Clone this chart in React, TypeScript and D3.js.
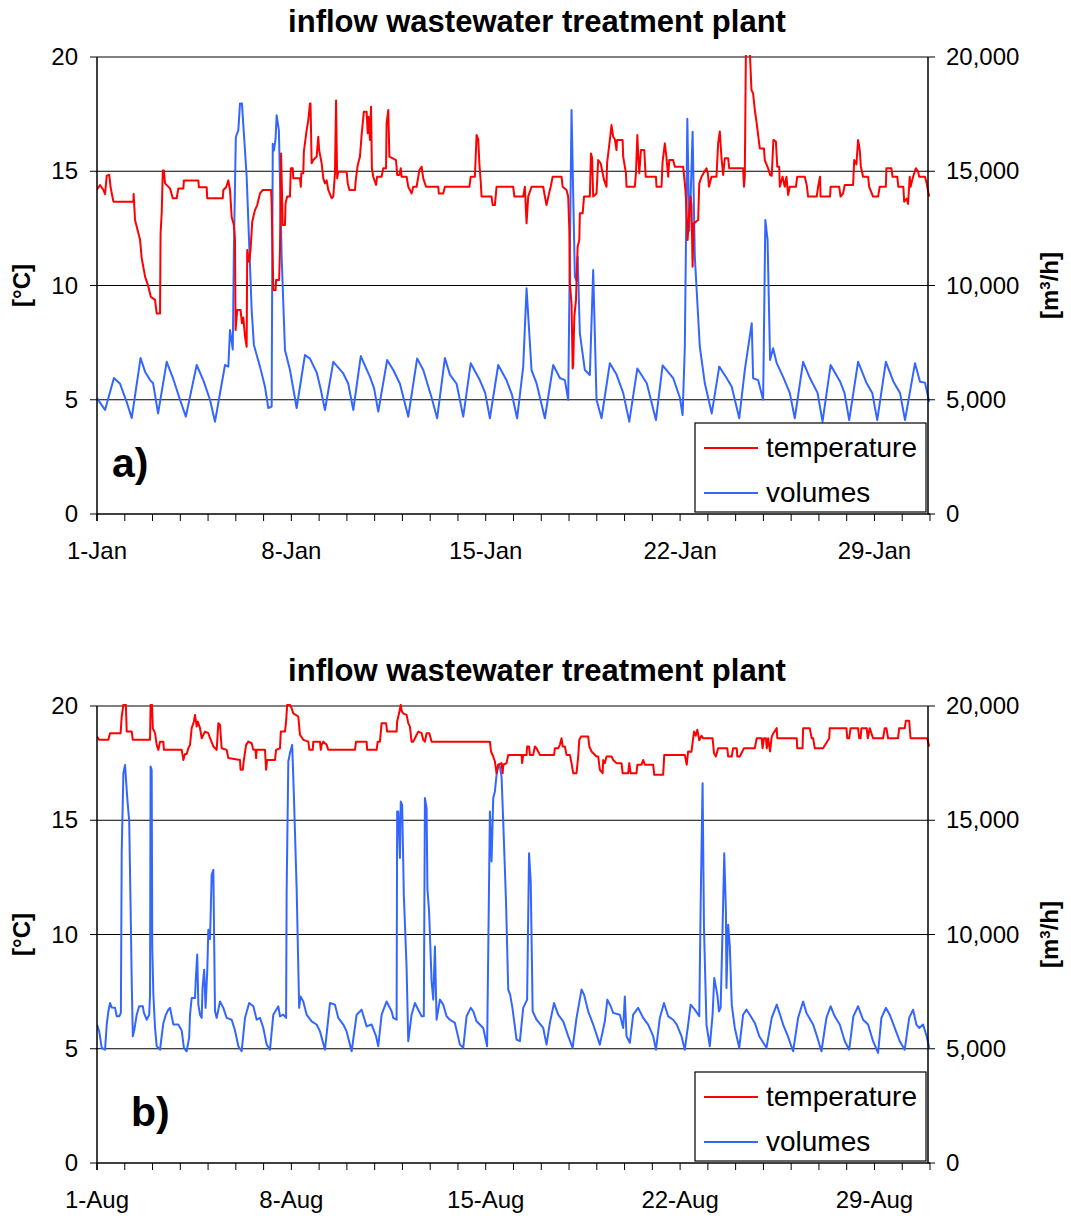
import React from "react";
import * as d3 from "d3";

type Pt = [number, number]; // [days since start of month, value]

// ---- January: temperature [°C] ----
const janTemperature: Pt[] = [
  [0, 14.2], [0.11, 14.4], [0.23, 14.18], [0.29, 14.0], [0.35, 14.8], [0.44, 14.85], [0.49, 14.3], [0.59, 13.67],
  [1.31, 13.67], [1.32, 14.0], [1.37, 12.87], [1.55, 12.0], [1.61, 11.2], [1.73, 10.4], [1.85, 9.95], [1.94, 9.5],
  [2.09, 9.37], [2.15, 8.78], [2.27, 8.78], [2.29, 12.3], [2.33, 13.16], [2.37, 15.03], [2.41, 15.03], [2.45, 14.47],
  [2.63, 14.25], [2.73, 13.82], [2.87, 13.82], [2.93, 14.25], [3.11, 14.25], [3.13, 14.6], [3.65, 14.6], [3.67, 14.3],
  [3.95, 14.3], [3.97, 13.82], [4.53, 13.82], [4.55, 14.18], [4.65, 14.3], [4.73, 14.6], [4.79, 14.18], [4.85, 13.0],
  [4.93, 12.65], [4.97, 12.0], [4.99, 8.05], [5.05, 8.93], [5.17, 8.93], [5.22, 8.35], [5.27, 8.6], [5.33, 7.76],
  [5.39, 7.32], [5.41, 11.55], [5.48, 11.04], [5.53, 11.55], [5.59, 12.79], [5.69, 13.3], [5.77, 13.52], [5.87, 14.03],
  [5.97, 14.18], [6.27, 14.18], [6.29, 13.6], [6.35, 9.8], [6.43, 9.8], [6.45, 10.24], [6.56, 10.24], [6.59, 11.55],
  [6.63, 15.78], [6.69, 12.65], [6.77, 12.65], [6.79, 13.6], [6.85, 13.89], [6.95, 13.89], [6.98, 15.13], [7.05, 15.13],
  [7.07, 14.69], [7.31, 14.69], [7.34, 14.32], [7.36, 14.91], [7.43, 14.91], [7.45, 15.86], [7.55, 16.8], [7.61, 17.24],
  [7.67, 17.97], [7.69, 17.97], [7.73, 15.35], [7.79, 15.49], [7.91, 15.64], [7.97, 16.51], [8.0, 15.93], [8.09, 15.35],
  [8.15, 14.69], [8.21, 14.47], [8.27, 14.6], [8.33, 14.18], [8.45, 13.82], [8.51, 13.9], [8.57, 14.91], [8.61, 18.1],
  [8.63, 16.22], [8.65, 14.69], [8.69, 14.98], [8.99, 14.98], [9.03, 14.47], [9.09, 14.18], [9.29, 14.18], [9.32, 14.62],
  [9.39, 15.27], [9.47, 15.64], [9.53, 16.59], [9.61, 17.6], [9.71, 17.6], [9.75, 16.66], [9.78, 17.39], [9.83, 16.37],
  [9.87, 17.82], [9.9, 15.13], [9.95, 14.76], [10.05, 14.4], [10.09, 14.76], [10.25, 14.76], [10.31, 15.13], [10.41, 15.13],
  [10.43, 17.1], [10.49, 17.68], [10.53, 15.64], [10.77, 15.49], [10.81, 14.84], [10.89, 14.84], [10.94, 15.13], [10.97, 14.76],
  [11.15, 14.76], [11.21, 14.32], [11.33, 14.03], [11.39, 14.32], [11.51, 14.32], [11.61, 15.05], [11.69, 15.2], [11.75, 14.69],
  [11.85, 14.32], [12.29, 14.32], [12.31, 14.03], [12.47, 14.03], [12.53, 14.32], [13.41, 14.32], [13.46, 14.76], [13.61, 14.76],
  [13.67, 16.59], [13.73, 16.4], [13.77, 15.35], [13.82, 14.54], [13.85, 13.89], [14.21, 13.89], [14.25, 13.52], [14.33, 13.52],
  [14.39, 14.32], [14.99, 14.32], [15.03, 13.89], [15.35, 13.89], [15.41, 14.32], [15.47, 12.72], [15.53, 13.89], [15.65, 14.32],
  [16.07, 14.32], [16.13, 13.89], [16.19, 13.52], [16.28, 14.03], [16.34, 14.32], [16.41, 14.76], [16.73, 14.76], [16.77, 14.32],
  [16.91, 14.18], [16.97, 13.89], [17.01, 12.43], [17.03, 10.1], [17.09, 9.22], [17.13, 6.37], [17.15, 6.5], [17.19, 8.63],
  [17.25, 9.37], [17.31, 11.7], [17.37, 11.99], [17.39, 13.16], [17.49, 13.16], [17.54, 13.89], [17.75, 13.89], [17.79, 15.78],
  [17.83, 15.6], [17.87, 13.89], [17.99, 14.03], [18.05, 15.49], [18.14, 15.35], [18.26, 14.62], [18.35, 14.32], [18.37, 15.35],
  [18.47, 16.37], [18.53, 17.02], [18.59, 16.51], [18.65, 16.4], [18.71, 15.93], [18.73, 16.37], [18.93, 16.37], [18.95, 15.64],
  [19.05, 14.91], [19.07, 14.32], [19.37, 14.32], [19.41, 14.91], [19.46, 16.59], [19.49, 15.78], [19.53, 14.91], [19.59, 15.93],
  [19.71, 15.93], [19.76, 14.76], [20.13, 14.76], [20.15, 14.32], [20.33, 14.32], [20.37, 15.42], [20.45, 16.22], [20.51, 15.6],
  [20.57, 14.76], [20.61, 15.49], [20.75, 15.49], [20.81, 15.2], [21.11, 15.2], [21.17, 14.47], [21.21, 13.89], [21.27, 11.99],
  [21.33, 13.16], [21.38, 13.89], [21.41, 13.5], [21.45, 10.82], [21.49, 12.72], [21.65, 12.87], [21.69, 14.47], [21.77, 14.76],
  [21.95, 15.13], [22.0, 14.9], [22.04, 14.32], [22.13, 14.76], [22.31, 14.76], [22.37, 16.22], [22.43, 16.74], [22.49, 15.6],
  [22.55, 14.84], [22.61, 15.57], [22.73, 15.57], [22.77, 15.13], [23.27, 15.13], [23.3, 14.32], [23.33, 14.76], [23.37, 20.3],
  [23.51, 20.3], [23.57, 18.56], [23.63, 18.4], [23.69, 17.68], [23.75, 17.17], [23.81, 16.59], [23.87, 16.0], [24.02, 16.0],
  [24.05, 15.49], [24.17, 15.13], [24.24, 14.84], [24.3, 14.8], [24.36, 16.37], [24.45, 16.3], [24.5, 15.2], [24.57, 15.2],
  [24.59, 14.32], [24.69, 14.76], [24.77, 14.32], [24.83, 14.76], [24.89, 13.96], [24.95, 14.32], [25.17, 14.32], [25.22, 14.76],
  [25.49, 14.76], [25.56, 14.4], [25.61, 13.89], [25.92, 13.89], [25.97, 14.32], [26.04, 14.76], [26.06, 13.89], [26.4, 13.89],
  [26.42, 14.32], [26.73, 14.32], [26.78, 13.89], [26.87, 14.03], [26.93, 14.4], [27.23, 14.4], [27.27, 15.49], [27.35, 15.3],
  [27.41, 16.37], [27.47, 15.93], [27.51, 15.2], [27.59, 14.76], [27.77, 14.76], [27.81, 14.32], [27.95, 13.89], [28.13, 13.89],
  [28.19, 14.32], [28.41, 14.32], [28.43, 15.13], [28.61, 15.13], [28.65, 14.76], [28.82, 14.76], [28.86, 14.32], [29.04, 14.32],
  [29.07, 13.67], [29.16, 13.8], [29.21, 13.57], [29.27, 14.76], [29.3, 14.32], [29.39, 14.76], [29.49, 15.13], [29.57, 15.0],
  [29.61, 14.76], [29.82, 14.76], [29.88, 14.47], [29.97, 13.89],
];

// ---- January: inflow volumes [m³/h] ----
const janVolumes: Pt[] = [
  [0, 5070], [0.29, 4550], [0.61, 5950], [0.83, 5700], [1.07, 4900], [1.25, 4200], [1.57, 6830], [1.73, 6230],
  [1.91, 5860], [2.02, 5720], [2.2, 4400], [2.51, 6660], [2.75, 5900], [2.99, 5000], [3.2, 4260], [3.59, 6520], [3.83, 5850],
  [4.07, 5000], [4.25, 4040], [4.61, 6520], [4.73, 6450], [4.79, 8050], [4.89, 7200], [4.93, 11550], [5.0, 16500],
  [5.09, 16800], [5.15, 17970], [5.22, 17970], [5.39, 14760], [5.57, 8930], [5.65, 7400], [5.87, 6450], [6.05, 5570],
  [6.17, 4640], [6.29, 4700], [6.33, 16200], [6.37, 15900], [6.43, 16400], [6.47, 17450], [6.55, 16800], [6.65, 11260],
  [6.77, 7180], [6.95, 6300], [7.19, 4640], [7.49, 6960], [7.67, 6800], [7.91, 6200], [8.05, 5500], [8.21, 4550], [8.51, 6660],
  [8.87, 6150], [9.05, 5700], [9.23, 4550], [9.5, 6910], [9.83, 6000], [9.98, 5500], [10.13, 4480], [10.45, 6740], [10.67, 6300],
  [10.91, 5700], [11.21, 4260], [11.53, 6810], [11.75, 6300], [12.05, 5100], [12.25, 4190], [12.53, 6830], [12.71, 6100],
  [12.95, 5700], [13.19, 4260], [13.46, 6600], [13.79, 5850], [13.98, 5300], [14.15, 4190], [14.45, 6520], [14.75, 5850],
  [14.95, 5200], [15.13, 4190],
  [15.35, 6450], [15.47, 9880], [15.65, 6300], [15.83, 5720], [16.13, 4190], [16.43, 6520], [16.67, 5950], [16.85, 5860],
  [16.97, 5000], [17.09, 17680], [17.21, 10390], [17.27, 10200], [17.31, 11260], [17.39, 7900], [17.57, 6300], [17.75, 6080],
  [17.87, 10680], [17.99, 5000], [18.17, 4190], [18.47, 6600], [18.71, 6100], [18.95, 5300], [19.17, 4040], [19.46, 6370],
  [19.8, 5720], [20.13, 4110], [20.37, 6500], [20.75, 5950], [20.99, 5100], [21.09, 4330], [21.17, 7300], [21.26, 17300],
  [21.33, 12400], [21.38, 13900], [21.45, 16730], [21.53, 11260], [21.65, 8630], [21.71, 7320], [21.89, 5720], [22.14, 4400],
  [22.41, 6450], [22.68, 5940], [22.86, 5570], [23.13, 4190], [23.33, 6300], [23.58, 8350], [23.63, 5940], [23.81, 5860],
  [23.99, 5000], [24.07, 12870], [24.15, 12000], [24.24, 6740], [24.35, 7250], [24.48, 6600], [24.71, 6000], [24.95, 5300],
  [25.13, 4190], [25.43, 6660], [25.68, 5940], [25.95, 5300], [26.13, 4040], [26.42, 6520], [26.76, 5800], [26.92, 5300],
  [27.09, 4110], [27.41, 6660], [27.72, 5720], [27.92, 5300], [28.1, 4110], [28.41, 6660], [28.68, 5800], [28.92, 5300],
  [29.1, 4110], [29.46, 6600], [29.64, 5790], [29.82, 5750], [29.97, 4910],
];

// ---- August: temperature [°C] ----
const augTemperature: Pt[] = [
  [0, 18.66], [0.08, 18.52], [0.41, 18.52], [0.47, 18.81], [0.85, 18.81], [0.89, 19.54], [0.95, 20.05], [1.04, 20.05],
  [1.07, 18.88], [1.25, 18.88], [1.29, 18.52], [1.91, 18.52], [1.93, 20.05], [1.98, 20.05], [2.01, 19.03], [2.09, 18.81],
  [2.15, 18.3], [2.21, 18.08], [2.27, 18.44], [2.39, 18.44], [2.41, 18.08], [3.05, 18.08], [3.11, 17.64], [3.17, 17.9],
  [3.23, 17.9], [3.29, 18.15], [3.35, 18.3], [3.41, 19.03], [3.49, 19.32], [3.53, 19.61], [3.59, 19.1], [3.63, 19.32],
  [3.71, 19.03], [3.77, 18.59], [3.89, 18.88], [4.01, 18.81], [4.07, 18.59], [4.19, 18.23], [4.31, 18.08], [4.37, 19.25],
  [4.43, 19.18], [4.49, 18.15], [4.67, 18.08], [4.73, 17.72], [5.15, 17.64], [5.17, 17.21], [5.25, 17.21], [5.29, 17.64],
  [5.37, 18.3], [5.45, 18.44], [5.57, 18.37], [5.63, 18.08], [5.71, 18.08], [5.73, 17.72], [5.75, 18.08], [6.05, 18.08],
  [6.09, 17.21], [6.13, 17.64], [6.41, 17.64], [6.45, 18.08], [6.59, 18.15], [6.62, 18.88], [6.77, 18.88], [6.81, 19.32],
  [6.85, 20.05], [6.95, 20.05], [7.01, 19.9], [7.07, 19.68], [7.25, 19.54], [7.31, 18.74], [7.43, 18.52], [7.61, 18.44],
  [7.65, 18.08], [7.77, 18.08], [7.79, 18.44], [8.03, 18.44], [8.06, 18.08], [8.09, 18.3], [8.15, 18.44], [8.27, 18.3],
  [8.33, 18.08], [9.29, 18.08], [9.33, 18.44], [9.71, 18.44], [9.73, 18.08], [10.07, 18.08], [10.11, 18.44], [10.19, 18.44],
  [10.25, 19.25], [10.41, 19.25], [10.45, 18.88], [10.79, 18.88], [10.81, 19.32], [10.89, 19.75], [10.94, 20.05], [10.98, 19.75],
  [11.03, 19.68], [11.15, 19.61], [11.21, 19.25], [11.27, 19.1], [11.33, 18.44], [11.39, 18.44], [11.45, 18.59], [11.57, 18.88],
  [11.69, 18.81], [11.75, 18.52], [11.81, 18.44], [11.87, 18.81], [11.97, 18.81], [12.05, 18.44], [14.15, 18.44], [14.19, 18.01],
  [14.27, 17.79], [14.33, 17.57], [14.39, 17.06], [14.45, 17.43], [14.57, 17.5], [14.61, 17.06], [14.63, 17.43], [14.75, 17.5],
  [14.81, 17.86], [15.29, 17.86], [15.31, 17.5], [15.35, 17.86], [15.47, 17.86], [15.49, 18.23], [15.56, 18.23], [15.59, 17.86],
  [15.71, 17.86], [15.77, 18.23], [15.83, 18.15], [15.95, 17.86], [16.46, 17.86], [16.49, 18.15], [16.61, 18.15], [16.67, 18.3],
  [16.73, 18.59], [16.77, 18.23], [16.85, 18.23], [16.91, 17.86], [17.03, 17.86], [17.09, 17.5], [17.15, 17.06], [17.27, 17.06],
  [17.33, 17.79], [17.37, 18.52], [17.43, 18.66], [17.69, 18.66], [17.73, 18.23], [17.81, 18.01], [17.99, 17.79], [18.05, 17.79],
  [18.11, 17.21], [18.21, 17.06], [18.23, 17.64], [18.29, 17.5], [18.35, 17.79], [18.53, 17.79], [18.59, 17.64], [18.71, 17.5],
  [18.89, 17.5], [18.93, 17.06], [19.13, 17.06], [19.17, 17.5], [19.22, 17.06], [19.43, 17.06], [19.46, 17.43], [19.61, 17.43],
  [19.67, 17.64], [19.73, 17.43], [20.03, 17.43], [20.07, 16.99], [20.39, 16.99], [20.43, 17.86], [21.17, 17.86], [21.24, 17.43],
  [21.29, 18.01], [21.41, 18.0], [21.5, 18.88], [21.56, 18.7], [21.62, 18.96], [21.69, 18.5], [21.77, 18.7], [21.83, 18.59],
  [22.17, 18.59], [22.22, 17.94], [22.29, 17.79], [22.37, 18.15], [22.7, 18.15], [22.73, 17.79], [22.86, 17.79], [22.91, 18.15],
  [23.04, 18.15], [23.06, 17.79], [23.15, 17.79], [23.3, 18.15], [23.69, 18.15], [23.76, 18.59], [23.94, 18.59], [23.97, 18.15],
  [24.02, 18.59], [24.09, 18.59], [24.12, 18.15], [24.17, 18.59], [24.24, 18.01], [24.3, 18.66], [24.36, 18.81], [24.48, 19.03],
  [24.5, 18.59], [25.2, 18.59], [25.22, 18.15], [25.41, 18.15], [25.43, 19.03], [25.67, 19.03], [25.74, 18.59], [25.79, 18.59],
  [25.85, 18.15], [26.15, 18.15], [26.37, 18.59], [26.39, 19.03], [26.99, 19.03], [27.02, 18.59], [27.09, 18.59], [27.14, 19.03],
  [27.41, 19.03], [27.45, 18.59], [27.5, 18.59], [27.53, 19.03], [27.72, 19.03], [27.76, 18.59], [27.83, 19.03], [27.95, 18.59],
  [28.31, 18.59], [28.37, 19.03], [28.43, 19.03], [28.49, 18.59], [28.85, 18.59], [28.89, 19.03], [29.09, 19.03], [29.13, 19.35],
  [29.25, 19.35], [29.3, 18.59], [29.9, 18.59], [29.97, 18.23],
];

// ---- August: inflow volumes [m³/h] ----
const augVolumes: Pt[] = [
  [0, 6060], [0.08, 5760], [0.17, 5040], [0.29, 4960], [0.35, 6060], [0.41, 6640], [0.47, 7000], [0.53, 6800],
  [0.65, 6790], [0.71, 6420], [0.8, 6420], [0.86, 6570], [0.89, 13630], [0.95, 17060], [1.01, 17420], [1.09, 15970],
  [1.16, 14950], [1.21, 11160], [1.25, 7950], [1.29, 5550], [1.34, 5800], [1.43, 6490], [1.52, 6860], [1.65, 6860],
  [1.69, 6570], [1.79, 6270], [1.88, 6490], [1.91, 7370], [1.93, 17350], [1.97, 17200], [1.99, 9410], [2.03, 7370],
  [2.09, 5910], [2.15, 5110], [2.27, 4960], [2.39, 6130], [2.48, 6490], [2.57, 6710], [2.63, 6790], [2.75, 6060],
  [2.93, 6060], [3.05, 5800], [3.13, 5040], [3.23, 4890], [3.32, 5500], [3.35, 6490], [3.41, 7220], [3.53, 7220],
  [3.56, 8100], [3.61, 9120], [3.65, 6930], [3.71, 6490], [3.77, 6350], [3.8, 7660], [3.86, 8460], [3.91, 6790],
  [3.97, 8390], [4.01, 10210], [4.07, 9800], [4.13, 12610], [4.19, 12830], [4.25, 6640], [4.31, 6350], [4.43, 7070],
  [4.55, 6790], [4.67, 6350], [4.85, 6270], [4.97, 5800], [5.09, 5110], [5.21, 4890], [5.33, 6350], [5.48, 7000],
  [5.63, 6860], [5.75, 6270], [5.87, 6350], [5.99, 5910], [6.11, 5180], [6.23, 4960], [6.35, 6490], [6.53, 6860],
  [6.59, 6420], [6.71, 6490], [6.81, 6350], [6.83, 11880], [6.89, 17570], [6.95, 17940], [7.03, 18300], [7.09, 16110],
  [7.19, 12030], [7.28, 6790], [7.33, 7290], [7.43, 7070], [7.55, 6490], [7.73, 6200], [7.91, 6060], [8.03, 5760],
  [8.21, 4960], [8.39, 7000], [8.57, 6930], [8.69, 6350], [8.87, 6060], [8.99, 5760], [9.17, 4890], [9.35, 6490],
  [9.53, 6710], [9.71, 5980], [9.89, 6060], [10.05, 5550], [10.13, 5110], [10.25, 6490], [10.43, 7070], [10.61, 6640],
  [10.67, 6350], [10.79, 6270], [10.81, 15380], [10.85, 15380], [10.91, 13350], [10.94, 15820], [10.99, 15670], [11.05, 11740],
  [11.15, 8540], [11.21, 5330], [11.33, 6490], [11.45, 7000], [11.57, 6710], [11.69, 6420], [11.77, 6420], [11.81, 15970],
  [11.87, 15530], [11.9, 12000], [11.96, 11010], [12.05, 7950], [12.11, 7150], [12.17, 9480], [12.23, 6270], [12.35, 7150],
  [12.47, 6930], [12.59, 6420], [12.71, 6270], [12.89, 6130], [13.07, 5180], [13.19, 5040], [13.31, 6420], [13.46, 6790],
  [13.55, 6640], [13.67, 6200], [13.91, 5910], [14.05, 5110], [14.15, 15380], [14.21, 13200], [14.27, 15970], [14.33, 16260],
  [14.39, 16990], [14.45, 17420], [14.51, 17350], [14.57, 16900], [14.63, 14950], [14.73, 11450], [14.81, 7590], [14.88, 7370],
  [14.97, 6710], [15.11, 5400], [15.23, 5330], [15.35, 6790], [15.49, 7150], [15.56, 13560], [15.62, 12320], [15.69, 6640],
  [15.83, 6270], [16.07, 5910], [16.19, 5180], [16.31, 6130], [16.46, 7000], [16.61, 6490], [16.79, 6200], [16.97, 5550],
  [17.13, 5040], [17.27, 6350], [17.45, 7590], [17.54, 7370], [17.69, 6640], [17.87, 6060], [18.11, 5180], [18.29, 6200],
  [18.38, 7150], [18.5, 6860], [18.59, 6570], [18.83, 6490], [18.95, 5910], [19.01, 7290], [19.07, 5550], [19.19, 5260],
  [19.31, 6490], [19.49, 6790], [19.67, 6350], [19.85, 6060], [20.03, 5550], [20.13, 4960], [20.27, 6350], [20.42, 7000],
  [20.57, 6420], [20.75, 6270], [20.88, 6060], [21.05, 5550], [21.17, 4960], [21.29, 6060], [21.38, 6930], [21.53, 6710],
  [21.69, 6420], [21.74, 11300], [21.81, 16620], [21.86, 10280], [21.95, 6060], [22.07, 5110], [22.17, 6490], [22.23, 8100],
  [22.34, 7370], [22.4, 6640], [22.46, 6790], [22.53, 10280], [22.59, 13560], [22.65, 11000], [22.67, 7660], [22.73, 10430],
  [22.79, 9500], [22.86, 6930], [22.97, 5910], [23.13, 5040], [23.27, 6490], [23.39, 6710], [23.51, 6490], [23.69, 6130],
  [23.85, 5550], [24.11, 5040], [24.3, 6350], [24.48, 6930], [24.6, 6490], [24.71, 6060], [24.88, 5550], [25.07, 4890],
  [25.25, 6350], [25.43, 7070], [25.55, 6570], [25.79, 6060], [25.91, 5620], [26.09, 4890], [26.27, 6350], [26.42, 6860],
  [26.57, 6420], [26.75, 6060], [26.93, 5330], [27.09, 4960], [27.24, 6420], [27.41, 6860], [27.59, 6270], [27.77, 6060],
  [27.95, 5330], [28.13, 4820], [28.25, 6350], [28.41, 6790], [28.55, 6490], [28.73, 5910], [28.91, 5330], [29.09, 4960],
  [29.25, 6350], [29.39, 6710], [29.51, 6060], [29.61, 5910], [29.75, 6060], [29.88, 5550], [29.97, 5040],
];

// ---- axis ticks and labels ----
const temperatureTicks = [0, 5, 10, 15, 20];
const volumeTicks = [0, 5000, 10000, 15000, 20000];
const labelledDays = [0, 7, 14, 21, 28];
const monthDays = d3.range(0, 31);
const chartTitle = "inflow wastewater treatment plant";
const seriesNames = ["temperature", "volumes"];
const seriesColors = ["#FF0000", "#3366FF"];

const panels = [
  { letter: "a)", month: 0, temperature: janTemperature, volumes: janVolumes, dy: 0, letterX: 112 },
  { letter: "b)", month: 7, temperature: augTemperature, volumes: augVolumes, dy: 649, letterX: 131 },
];

const FONT = "'Liberation Sans', Arial, Helvetica, sans-serif";
const LEFT = 97;
const RIGHT = 928;
const DAY30 = 930;
const fmtDate = d3.utcFormat("%-d-%b");
const fmtVol = d3.format(",");

function Panel({ p }: { p: (typeof panels)[number] }) {
  const top = 57 + p.dy;
  const bottom = 514 + p.dy;
  const x = d3.scaleLinear().domain([0, 30]).range([LEFT, DAY30]);
  const yT = d3.scaleLinear().domain([0, 20]).range([bottom, top]);
  const yV = d3.scaleLinear().domain([0, 20000]).range([bottom, top]);
  const tLine = d3.line<Pt>().x((d) => x(d[0])).y((d) => yT(d[1]));
  const vLine = d3.line<Pt>().x((d) => x(d[0])).y((d) => yV(d[1]));
  const clipId = `clip-${p.month}`;
  const midY = (top + bottom) / 2;
  const legTop = bottom - 91;

  return (
    <g>
      <defs>
        <clipPath id={clipId}>
          <rect x={LEFT} y={top - 2} width={DAY30 - LEFT + 1} height={bottom - top + 2} />
        </clipPath>
      </defs>
      <text x={537} y={32 + p.dy} textAnchor="middle" fontFamily={FONT} fontWeight="bold" fontSize={31}>
        {chartTitle}
      </text>

      {/* horizontal gridlines */}
      {temperatureTicks.slice(1, 4).map((t) => (
        <line key={t} x1={LEFT} x2={RIGHT} y1={yT(t)} y2={yT(t)} stroke="#000" strokeWidth={1} />
      ))}
      <line x1={LEFT} x2={RIGHT} y1={top} y2={top} stroke="#808080" strokeWidth={2} />

      {/* series */}
      <g clipPath={`url(#${clipId})`} fill="none" strokeLinejoin="round">
        <path d={vLine(p.volumes) ?? ""} stroke={seriesColors[1]} strokeWidth={2} />
        <path d={tLine(p.temperature) ?? ""} stroke={seriesColors[0]} strokeWidth={2} />
      </g>

      {/* axes */}
      <line x1={LEFT} x2={LEFT} y1={top} y2={bottom + 7} stroke="#000" strokeWidth={1.5} />
      <line x1={RIGHT} x2={RIGHT} y1={top} y2={bottom} stroke="#000" strokeWidth={1.5} />
      <line x1={LEFT} x2={RIGHT + 2} y1={bottom} y2={bottom} stroke="#000" strokeWidth={1.5} />

      {/* left axis */}
      {temperatureTicks.map((t) => (
        <g key={t}>
          <line x1={LEFT - 7} x2={LEFT} y1={yT(t)} y2={yT(t)} stroke="#000" strokeWidth={1} />
          <text x={78} y={yT(t) + 8} textAnchor="end" fontFamily={FONT} fontSize={24}>
            {t}
          </text>
        </g>
      ))}
      {/* right axis */}
      {volumeTicks.map((v) => (
        <g key={v}>
          <line x1={RIGHT} x2={RIGHT + 7} y1={yV(v)} y2={yV(v)} stroke="#000" strokeWidth={1} />
          <text x={946} y={yV(v) + 8} textAnchor="start" fontFamily={FONT} fontSize={24}>
            {fmtVol(v)}
          </text>
        </g>
      ))}
      {/* x axis */}
      {monthDays.map((d) => (
        <line key={d} x1={x(d)} x2={x(d)} y1={bottom} y2={bottom + 7} stroke="#000" strokeWidth={1} />
      ))}
      {labelledDays.map((d) => (
        <text key={d} x={x(d)} y={559 + p.dy} textAnchor="middle" fontFamily={FONT} fontSize={24}>
          {fmtDate(new Date(Date.UTC(2001, p.month, 1 + d)))}
        </text>
      ))}

      {/* axis titles */}
      <text
        transform={`translate(30,${midY}) rotate(-90)`}
        textAnchor="middle"
        fontFamily={FONT}
        fontWeight="bold"
        fontSize={24}
      >
        [°C]
      </text>
      <text
        transform={`translate(1058,${midY}) rotate(-90)`}
        textAnchor="middle"
        fontFamily={FONT}
        fontWeight="bold"
        fontSize={24}
      >
        [m<tspan dy={-8} fontSize={15}>3</tspan>
        <tspan dy={8}>/h]</tspan>
      </text>

      {/* legend */}
      <rect x={695} y={legTop} width={231} height={89} fill="#fff" stroke="#000" strokeWidth={1.2} />
      {seriesNames.map((name, i) => (
        <g key={name}>
          <line x1={704} x2={758} y1={legTop + 25 + i * 45} y2={legTop + 25 + i * 45} stroke={seriesColors[i]} strokeWidth={2} />
          <text x={766} y={legTop + 34 + i * 45} fontFamily={FONT} fontSize={28}>
            {name}
          </text>
        </g>
      ))}

      <text x={p.letterX} y={477 + p.dy} fontFamily={FONT} fontWeight="bold" fontSize={41}>
        {p.letter}
      </text>
    </g>
  );
}

export default function App() {
  return (
    <svg
      width={1071}
      height={1216}
      viewBox="0 0 1071 1216"
      style={{ position: "absolute", left: 0, top: 0, background: "#fff" }}
    >
      <rect width={1071} height={1216} fill="#fff" />
      {panels.map((p) => (
        <Panel key={p.letter} p={p} />
      ))}
    </svg>
  );
}
